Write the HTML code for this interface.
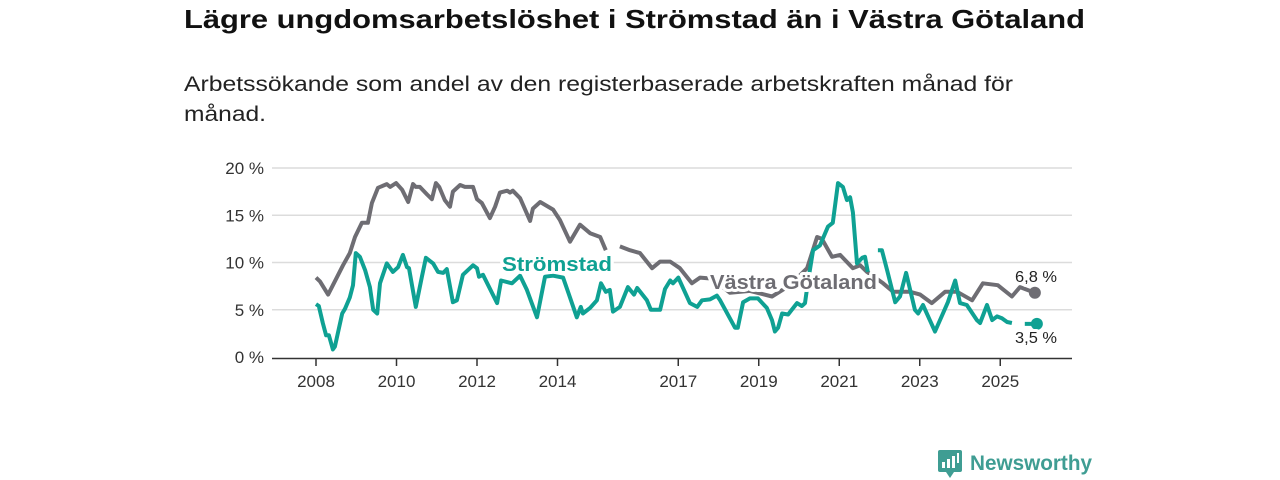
<!DOCTYPE html>
<html><head><meta charset="utf-8"><style>
body{margin:0;background:#fff;width:1280px;height:480px;overflow:hidden}
svg{display:block;font-family:"Liberation Sans","DejaVu Sans",sans-serif}
</style></head><body>
<svg id="chart" width="1280" height="480" viewBox="0 0 1280 480">
<text x="184" y="28" font-size="26" font-weight="bold" fill="#111" textLength="901" lengthAdjust="spacingAndGlyphs">Lägre ungdomsarbetslöshet i Strömstad än i Västra Götaland</text>
<text x="184" y="91" font-size="21" fill="#222" textLength="829" lengthAdjust="spacingAndGlyphs">Arbetssökande som andel av den registerbaserade arbetskraften månad för</text>
<text x="184" y="121" font-size="21" fill="#222" textLength="82" lengthAdjust="spacingAndGlyphs">månad.</text>
<g id="grid"></g><g id="axes"></g><g id="lines"></g><g id="labels"></g>
<g>
<rect x="938" y="450" width="24" height="22" rx="2" fill="#3f9d93"/>
<polygon points="946,472 954,472 950,478" fill="#3f9d93"/>
<rect x="942" y="462" width="3" height="6" fill="#fff"/><rect x="947" y="459" width="3" height="9" fill="#fff"/><rect x="952" y="456" width="3" height="12" fill="#fff"/><rect x="957" y="453" width="2" height="10" fill="#fff"/>
<text x="970" y="470" font-size="21" font-weight="bold" fill="#3f9d93" textLength="122" lengthAdjust="spacingAndGlyphs">Newsworthy</text>
</g>
</svg>
<script>
const yTicks=[0,5,10,15,20];
const yTickLabels=["0 %","5 %","10 %","15 %","20 %"];
const xTicks=[2008,2010,2012,2014,2017,2019,2021,2023,2025];
const grayDates=[2008.0,2008.1,2008.3,2008.42,2008.67,2008.84,2008.97,2009.14,2009.29,2009.39,2009.54,2009.76,2009.84,2009.99,2010.14,2010.29,2010.41,2010.48,2010.58,2010.76,2010.88,2010.98,2011.06,2011.2,2011.33,2011.4,2011.58,2011.7,2011.9,2012.0,2012.12,2012.32,2012.45,2012.57,2012.75,2012.82,2012.89,2013.07,2013.32,2013.39,2013.57,2013.89,2014.06,2014.31,2014.56,2014.81,2015.06,2015.2,2015.35,2015.55,2015.8,2016.05,2016.35,2016.55,2016.8,2017.04,2017.34,2017.54,2017.84,2018.28,2018.78,2019.33,2019.78,2020.2,2020.45,2020.57,2020.82,2021.02,2021.34,2021.52,2021.69,2022.09,2022.34,2022.76,2023.01,2023.3,2023.63,2023.93,2024.3,2024.57,2024.94,2025.29,2025.49,2025.86];
const grayValues=[8.4,8.0,6.6,7.6,9.7,11.0,12.7,14.2,14.2,16.3,17.9,18.3,18.0,18.4,17.7,16.4,18.3,18.0,18.0,17.2,16.7,18.4,18.0,16.6,15.9,17.5,18.2,18.0,18.0,16.7,16.3,14.7,15.9,17.4,17.6,17.4,17.6,16.8,14.4,15.7,16.4,15.6,14.5,12.2,14.0,13.1,12.7,11.3,null,11.7,11.3,11.0,9.4,10.1,10.1,9.4,7.8,8.4,8.3,6.8,7.0,6.4,7.6,9.4,12.7,12.5,10.6,10.8,9.4,9.7,9.0,7.8,6.9,6.9,6.6,5.7,6.9,6.9,6.0,7.8,7.6,6.4,7.4,6.8];
const tealDates=[2008.0,2008.07,2008.17,2008.25,2008.32,2008.42,2008.47,2008.65,2008.72,2008.84,2008.92,2008.99,2009.09,2009.22,2009.34,2009.42,2009.52,2009.59,2009.76,2009.91,2010.04,2010.16,2010.26,2010.31,2010.48,2010.63,2010.73,2010.91,2011.03,2011.16,2011.25,2011.4,2011.5,2011.65,2011.9,2012.0,2012.05,2012.15,2012.5,2012.6,2012.87,2013.07,2013.24,2013.49,2013.69,2013.89,2014.14,2014.31,2014.48,2014.58,2014.63,2014.81,2014.98,2015.08,2015.2,2015.3,2015.38,2015.55,2015.75,2015.9,2015.98,2016.22,2016.32,2016.55,2016.67,2016.8,2016.87,2017.0,2017.29,2017.47,2017.59,2017.79,2017.96,2018.04,2018.41,2018.48,2018.61,2018.78,2018.98,2019.2,2019.33,2019.4,2019.48,2019.58,2019.73,2019.95,2020.07,2020.15,2020.22,2020.35,2020.52,2020.72,2020.84,2020.97,2021.09,2021.19,2021.27,2021.34,2021.44,2021.57,2021.64,2021.71,2021.8,2021.96,2022.06,2022.19,2022.39,2022.51,2022.66,2022.88,2022.96,2023.08,2023.25,2023.38,2023.7,2023.88,2024.0,2024.17,2024.42,2024.5,2024.67,2024.8,2024.92,2025.04,2025.17,2025.29,2025.45,2025.61,2025.91];
const tealValues=[5.6,5.4,3.6,2.3,2.3,0.8,1.1,4.6,5.1,6.3,7.6,11.0,10.6,9.2,7.4,5.0,4.6,7.8,9.9,9.0,9.5,10.8,9.5,9.4,5.3,8.5,10.5,9.9,9.0,8.9,9.3,5.8,6.0,8.7,9.7,9.4,8.5,8.7,5.7,8.1,7.8,8.6,7.1,4.2,8.5,8.6,8.4,6.3,4.2,5.3,4.6,5.2,6.0,7.8,6.9,7.1,4.8,5.3,7.4,6.6,7.3,6.0,5.0,5.0,7.2,8.1,7.8,8.4,5.7,5.3,6.0,6.1,6.5,6.0,3.1,3.1,5.8,6.2,6.2,5.2,3.9,2.7,3.1,4.6,4.5,5.7,5.4,5.7,7.9,11.3,11.8,13.8,14.2,18.4,18.0,16.6,16.9,15.3,9.9,10.5,10.6,9.0,null,11.3,11.3,9.2,5.8,6.4,8.9,5.0,4.6,5.5,3.9,2.7,5.8,8.1,5.7,5.5,3.9,3.6,5.5,3.9,4.3,4.1,3.7,3.6,null,3.5,3.5];
const GRAY="#6e6d73",TEAL="#0fa193";
const X=y=>316+(y-2008)*40.25, Y=v=>357-v*9.45;
const NS="http://www.w3.org/2000/svg";
function mk(t,a,p){const e=document.createElementNS(NS,t);for(const k in a)e.setAttribute(k,a[k]);p.appendChild(e);return e;}
const grid=document.getElementById('grid'),axes=document.getElementById('axes'),lines=document.getElementById('lines'),labels=document.getElementById('labels');
yTicks.forEach((t,i)=>{
 if(t>0){const g=mk('line',{x1:272,x2:1072,y1:Y(t),y2:Y(t),stroke:'#dcdcdc','stroke-width':1.5},grid);
 
 }
 const l=mk('text',{x:264,y:Y(t)+6,'text-anchor':'end','font-size':17,fill:'#333'},axes);l.textContent=yTickLabels[i];
 
 
});
const ax=mk('line',{x1:272,x2:1072,y1:358.5,y2:358.5,stroke:'#333','stroke-width':1.5},axes);


xTicks.forEach(t=>{
 mk('line',{x1:X(t),x2:X(t),y1:359,y2:366,stroke:'#333','stroke-width':1.5},axes);
 const l=mk('text',{x:X(t),y:387,'text-anchor':'middle','font-size':17,fill:'#333'},axes);l.textContent=t;
 
 
});
function path(d,v){let s='',pen=false;d.forEach((x,i)=>{if(v[i]==null){pen=false;return;}s+=(pen?'L':'M')+X(x).toFixed(1)+','+Y(v[i]).toFixed(1);pen=true;});return s;}
const gp=mk('path',{d:path(grayDates,grayValues),fill:'none',stroke:GRAY,'stroke-width':4,'stroke-linejoin':'round'},lines);


const tp=mk('path',{d:path(tealDates,tealValues),fill:'none',stroke:TEAL,'stroke-width':4,'stroke-linejoin':'round'},lines);


const gl=grayDates.length-1,tl=tealDates.length-1;
const gd=mk('circle',{cx:X(grayDates[gl]),cy:Y(grayValues[gl]),r:6,fill:GRAY},lines);


const td=mk('circle',{cx:X(tealDates[tl]),cy:Y(tealValues[tl]),r:6,fill:TEAL},lines);


function lab(x,y,txt,fill,size,bold,name,w){const a={x:x,y:y,'font-size':size,fill:fill,stroke:'#fff','stroke-width':6,'paint-order':'stroke','stroke-linejoin':'round','font-weight':bold?'bold':'normal'};if(w){a.textLength=w;a.lengthAdjust='spacingAndGlyphs';}
 const t=mk('text',a,labels);t.textContent=txt;
 
 return t;}
lab(502,271,'Strömstad',TEAL,20,true,'stromstad-label',110);
lab(710,289,'Västra Götaland',GRAY,20,true,'vastra-gotaland-label',167);
lab(1015,282,'6,8 %','#222',16,false,'vastra-gotaland-value-label',42);
lab(1015,343,'3,5 %','#222',16,false,'stromstad-value-label',42);
</script>
</body></html>
